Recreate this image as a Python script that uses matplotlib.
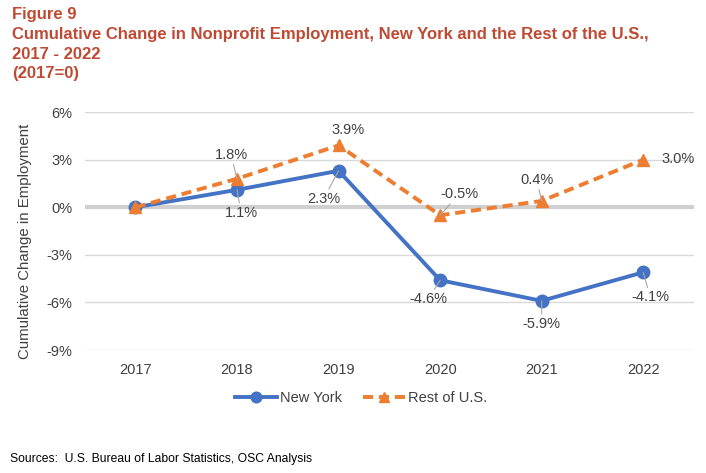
import matplotlib.pyplot as plt
from matplotlib.ticker import FuncFormatter

plt.rcParams['font.family'] = ['Liberation Sans', 'DejaVu Sans']

years = ['2017', '2018', '2019', '2020', '2021', '2022']
new_york = [0.0, 1.1, 2.3, -4.6, -5.9, -4.1]
rest_of_us = [0.0, 1.8, 3.9, -0.5, 0.4, 3.0]

# label offsets in pixels (dx, dy); None = no label
ny_offsets = [None, (4, -23), (-15, -28), (-12, -19), (0, -23), (7, -25)]
us_offsets = [None, (-6, 24), (9, 15), (19, 21), (-5, 21), (35, 1)]
us_leaders = [False, True, False, True, True, False]
ny_leaders = [False, True, True, True, True, True]

BLUE = '#4472C4'
ORANGE = '#ED7D31'
TITLE_RED = '#BF4A33'
TEXT_GRAY = '#404040'


def label_points(ax, vals, offsets, leaders):
    for i, (v, off, lead) in enumerate(zip(vals, offsets, leaders)):
        if off is None:
            continue
        props = None
        if lead:
            props = dict(arrowstyle='-', color='#A6A6A6', lw=0.8,
                         shrinkA=0, shrinkB=0)
        ax.annotate(f'{v:.1f}%', xy=(i, v), xytext=off,
                    textcoords='offset pixels', ha='center', va='center',
                    fontsize=10.5, color=TEXT_GRAY, arrowprops=props,
                    zorder=5)


def main():
    fig = plt.figure(figsize=(7.06, 4.73), dpi=100)
    ax = fig.add_axes([0.120, 0.260, 0.863, 0.503])

    x = list(range(len(years)))
    ax.plot(x, new_york, color=BLUE, lw=2.8, marker='o', markersize=9,
            label='New York', zorder=3)
    ax.plot(x, rest_of_us, color=ORANGE, lw=2.8, ls=(0, (2.6, 1.5)),
            marker='^', markersize=9, label='Rest of U.S.', zorder=4)

    label_points(ax, new_york, ny_offsets, ny_leaders)
    label_points(ax, rest_of_us, us_offsets, us_leaders)

    ax.set_xlim(-0.5, len(years) - 0.5)
    ax.set_ylim(-9, 6)
    ax.set_yticks([-9, -6, -3, 0, 3, 6])
    ax.yaxis.set_major_formatter(FuncFormatter(lambda v, p: f'{v:.0f}%'))
    ax.set_xticks(x)
    ax.set_xticklabels(years)
    ax.tick_params(length=0, labelsize=10.5, labelcolor=TEXT_GRAY, pad=9)
    ax.tick_params(axis='y', pad=9)

    ax.grid(axis='y', color='#D9D9D9', lw=1)
    ax.axhline(0, color='#D0D0D0', lw=3, zorder=1)
    ax.set_axisbelow(True)
    for s in ax.spines.values():
        s.set_visible(False)

    ax.set_ylabel('Cumulative Change in Employment', fontsize=10.8,
                  color=TEXT_GRAY)
    ax.yaxis.set_label_coords(-0.087, 0.458)

    fig.legend(loc='center', bbox_to_anchor=(361 / 706, 1 - 398 / 473),
               ncol=2, frameon=False, fontsize=10.5, handlelength=2.9,
               columnspacing=1.4, handletextpad=0.2, labelcolor=TEXT_GRAY,
               markerscale=0.85)

    fig.text(12 / 706, 1 - 7 / 473,
             'Figure 9\nCumulative Change in Nonprofit Employment, New York and the Rest of the U.S.,\n2017 - 2022\n(2017=0)',
             ha='left', va='top', fontsize=12, fontweight='bold',
             color=TITLE_RED, linespacing=1.4)

    fig.text(10 / 706, 1 - 459 / 473,
             'Sources:  U.S. Bureau of Labor Statistics, OSC Analysis',
             ha='left', va='center', fontsize=8.7, color='black')

    fig.savefig('out.png', dpi=100)


if __name__ == '__main__':
    main()
